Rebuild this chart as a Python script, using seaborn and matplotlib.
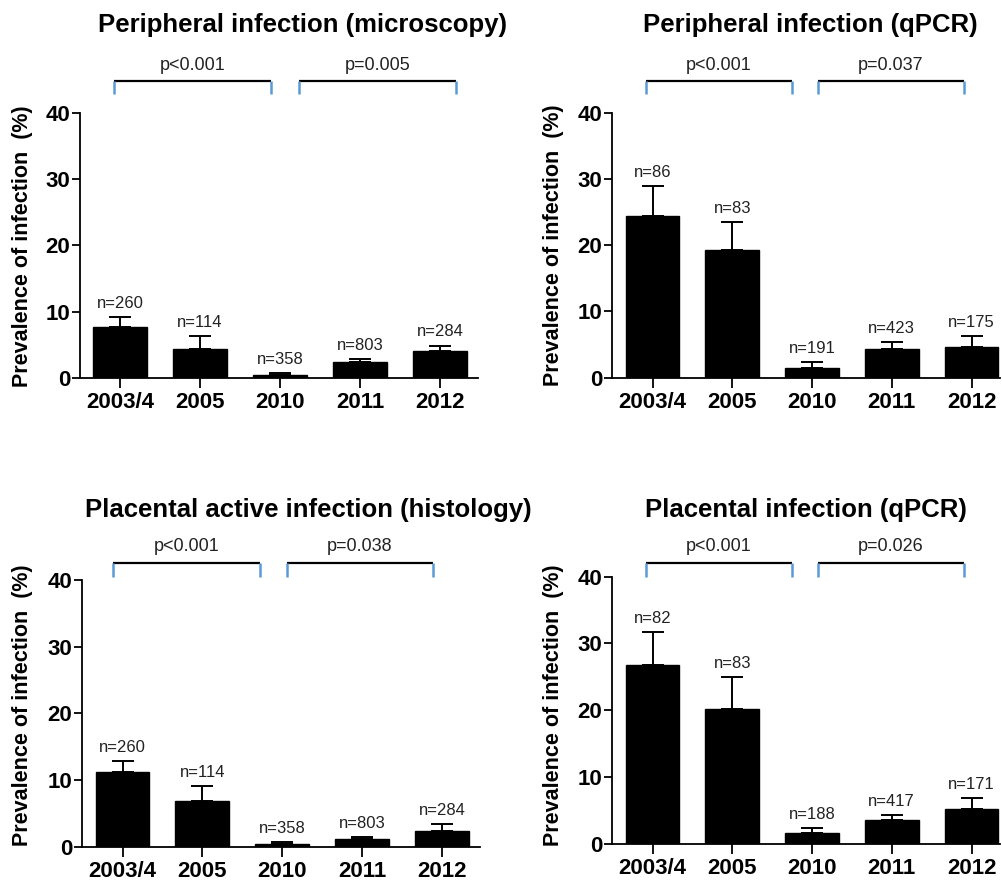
import numpy as np
import pandas as pd
import matplotlib
matplotlib.use("Agg")
import matplotlib.pyplot as plt
import matplotlib.transforms as mtransforms
import seaborn as sns

# ---------------- data ----------------
years = ["2003/4", "2005", "2010", "2011", "2012"]

titles = ["Peripheral infection (microscopy)",
          "Peripheral infection (qPCR)",
          "Placental active infection (histology)",
          "Placental infection (qPCR)"]

micro_vals = [7.7, 4.3, 0.5, 2.4, 4.0]
micro_err = [1.55, 2.0, 0.3, 0.5, 0.9]
micro_n = [260, 114, 358, 803, 284]
micro_p = ["p<0.001", "p=0.005"]

pqpcr_vals = [24.4, 19.2, 1.5, 4.4, 4.6]
pqpcr_err = [4.6, 4.3, 0.8, 1.0, 1.65]
pqpcr_n = [86, 83, 191, 423, 175]
pqpcr_p = ["p<0.001", "p=0.037"]

histo_vals = [11.2, 6.85, 0.45, 1.15, 2.35]
histo_err = [1.7, 2.3, 0.3, 0.35, 1.0]
histo_n = [260, 114, 358, 803, 284]
histo_p = ["p<0.001", "p=0.038"]

plqpcr_vals = [26.8, 20.2, 1.55, 3.6, 5.2]
plqpcr_err = [4.9, 4.7, 0.85, 0.65, 1.65]
plqpcr_n = [82, 83, 188, 417, 171]
plqpcr_p = ["p<0.001", "p=0.026"]

ylabel = "Prevalence of infection  (%)"

# ---------------- layout (pixels) ----------------
W, H = 1002, 881
sns.set_style("white")
plt.rcParams["font.family"] = ["Liberation Sans", "DejaVu Sans"]
plt.rcParams["text.color"] = "black"
plt.rcParams["xtick.color"] = "black"
plt.rcParams["ytick.color"] = "black"
plt.rcParams["axes.labelcolor"] = "black"

fig = plt.figure(figsize=(W / 100, H / 100), dpi=100)

panels = [
    dict(box=(80, 112.7, 478, 378), xlim=(-0.5, 4.475),
         vals=micro_vals, err=micro_err, n=micro_n, p=micro_p,
         br=[(-0.075, 1.89), (2.24, 4.2)], br_y=(81, 94), p_y=70,
         title_xy=(303, 32), ylab_xy=(23, 246)),
    dict(box=(612, 112.7, 1000, 377.7), xlim=(-0.508, 4.357),
         vals=pqpcr_vals, err=pqpcr_err, n=pqpcr_n, p=pqpcr_p,
         br=[(-0.08, 1.75), (2.07, 3.9)], br_y=(81, 94), p_y=70,
         title_xy=(810, 32), ylab_xy=(554, 245)),
    dict(box=(82, 580, 480, 846.7), xlim=(-0.507, 4.474),
         vals=histo_vals, err=histo_err, n=histo_n, p=histo_p,
         br=[(-0.12, 1.72), (2.06, 3.88)], br_y=(563, 577), p_y=551,
         title_xy=(308, 517), ylab_xy=(23, 705)),
    dict(box=(612, 576.7, 1000, 843.7), xlim=(-0.508, 4.357),
         vals=plqpcr_vals, err=plqpcr_err, n=plqpcr_n, p=plqpcr_p,
         br=[(-0.08, 1.75), (2.07, 3.9)], br_y=(563, 577), p_y=551,
         title_xy=(806, 517), ylab_xy=(554, 705)),
]

blue = "#5b9bd5"

for i, pn in enumerate(panels):
    l, t, r, b = pn["box"]
    ax = fig.add_axes([l / W, 1 - b / H, (r - l) / W, (b - t) / H])
    df = pd.DataFrame({"year": years, "value": pn["vals"]})
    sns.barplot(data=df, x="year", y="value", color="black", saturation=1,
                width=0.675, errorbar=None, ax=ax, edgecolor="black")
    xs = np.arange(len(years))
    vals = np.array(pn["vals"])
    errs = np.array(pn["err"])
    ax.errorbar(xs, vals, yerr=[np.zeros_like(errs), errs], fmt="none",
                ecolor="black", elinewidth=1.4, capsize=8, capthick=1.4)
    for x, v, e, n in zip(xs, vals, errs, pn["n"]):
        ax.annotate(f"n={n}", (x, v + e), xytext=(0, 6.5),
                    textcoords="offset points", ha="center", va="baseline",
                    fontsize=12, color="#222222")
    ax.set_xlim(*pn["xlim"])
    ax.set_ylim(0, 40)
    ax.set_yticks([0, 10, 20, 30, 40])
    ax.set_xlabel("")
    ax.set_ylabel("")
    for s in ["top", "right"]:
        ax.spines[s].set_visible(False)
    for s in ["left", "bottom"]:
        ax.spines[s].set_linewidth(1.3)
        ax.spines[s].set_color("black")
    ax.tick_params(axis="y", length=6, width=1.3, pad=1, labelsize=16,
                   left=True, direction="out", colors="black")
    ax.tick_params(axis="x", length=7, width=1.3, pad=3, labelsize=16,
                   bottom=True, direction="out", colors="black")
    for lab in ax.get_xticklabels() + ax.get_yticklabels():
        lab.set_fontweight("bold")

    # significance brackets
    trans = mtransforms.blended_transform_factory(ax.transData, fig.transFigure)
    y_top = 1 - pn["br_y"][0] / H
    y_bot = 1 - pn["br_y"][1] / H
    for (x0, x1), ptxt in zip(pn["br"], pn["p"]):
        ax.plot([x0, x1], [y_top, y_top], color="black", lw=1.6,
                transform=trans, clip_on=False, solid_capstyle="butt")
        ax.plot([x0, x0], [y_top, y_bot], color=blue, lw=1.8,
                transform=trans, clip_on=False, solid_capstyle="butt")
        ax.plot([x1, x1], [y_top, y_bot], color=blue, lw=1.8,
                transform=trans, clip_on=False, solid_capstyle="butt")
        ax.text((x0 + x1) / 2, 1 - pn["p_y"] / H, ptxt, transform=trans,
                ha="center", va="baseline", fontsize=13, color="#222222")

    tx, ty = pn["title_xy"]
    fig.text(tx / W, 1 - ty / H, titles[i], ha="center", va="baseline",
             fontsize=18.5, fontweight="bold", color="black")
    lx, ly = pn["ylab_xy"]
    fig.text(lx / W, 1 - ly / H, ylabel, rotation=90, ha="center",
             va="center", fontsize=15.5, fontweight="bold", color="black")

fig.savefig("out.png", dpi=100)
